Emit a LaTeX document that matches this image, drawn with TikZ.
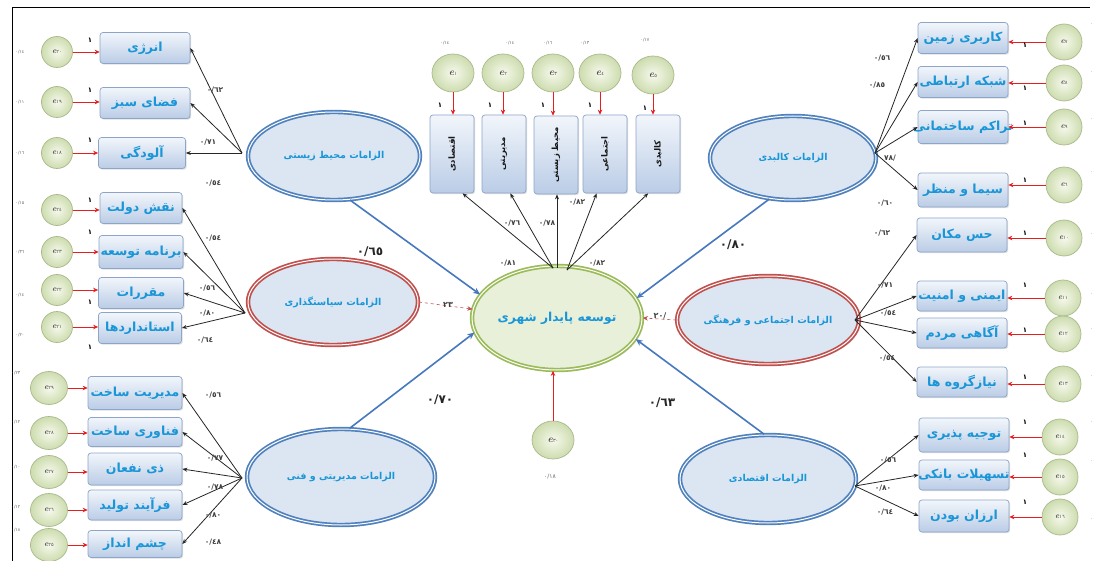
\documentclass[tikz,border=0pt]{standalone}
\usepackage{fontspec}
\usepackage{graphicx}
\usetikzlibrary{shapes.geometric,shadows,arrows.meta}
\TeXXeTstate=1
\newfontfamily\fa[Script=Arabic]{DejaVu Sans}
\newcommand{\fatxt}[1]{\beginR #1\endR}
\newcommand{\bxt}[1]{\makebox[0pt]{\fatxt{#1}}}
\newcommand{\eLab}[1]{\textbf{\textit{e}}{\fa\fontsize{5}{6}\selectfont #1}}

\definecolor{boxline}{RGB}{140,165,200}
\definecolor{boxtop}{RGB}{242,246,251}
\definecolor{boxbot}{RGB}{186,204,230}
\definecolor{txtblue}{RGB}{25,150,215}
\definecolor{errline}{RGB}{170,185,140}
\definecolor{errin}{RGB}{246,249,236}
\definecolor{errout}{RGB}{205,220,175}
\definecolor{ellfill}{RGB}{220,230,242}
\definecolor{bluebd}{RGB}{79,129,189}
\definecolor{redbd}{RGB}{192,80,77}
\definecolor{greenbd}{RGB}{155,187,89}
\definecolor{cenfill}{RGB}{233,240,218}
\definecolor{arrred}{RGB}{230,30,30}
\definecolor{arrblue}{RGB}{70,120,190}

\begin{document}
\begin{tikzpicture}[x=1pt,y=-1pt,
  ind/.style={rectangle, rounded corners=3pt, draw=boxline, line width=0.7pt,
    top color=boxtop, bottom color=boxbot, minimum width=90pt, minimum height=31pt,
    inner sep=1pt, font=\fa\bfseries\fontsize{12.5}{14}\selectfont, text=txtblue,
    drop shadow={opacity=0.25, shadow xshift=1.2pt, shadow yshift=-1.2pt}},
  vind/.style={ind, minimum width=44pt, minimum height=78pt,
    font=\fa\bfseries\fontsize{8.5}{9}\selectfont, text=black!90},
  err/.style={ellipse, draw=errline, line width=0.7pt, inner color=errin, outer color=errout,
    minimum width=31pt, minimum height=31pt, inner sep=0pt,
    font=\fontsize{8}{9}\selectfont, text=black!70},
  errbig/.style={err, minimum width=42pt, minimum height=38pt, font=\fontsize{10}{11}\selectfont},
  lat/.style={ellipse, draw=#1, double=white, double distance=1pt, line width=1.7pt,
    fill=ellfill, inner sep=0pt, font=\fa\bfseries\fontsize{9.5}{11}\selectfont, text=txtblue,
    drop shadow={opacity=0.3, shadow xshift=1.8pt, shadow yshift=-1.8pt}},
  coef/.style={font=\fa\bfseries\fontsize{7.5}{8}\selectfont, text=black!75},
  bigcoef/.style={font=\fa\bfseries\fontsize{12}{14}\selectfont, text=black!85},
  tinyl/.style={font=\fa\fontsize{4.5}{5}\selectfont, text=black!60},
  one/.style={font=\fa\bfseries\fontsize{7}{8}\selectfont, text=black},
  blk/.style={-{Stealth[length=5pt,width=4pt]}, line width=0.8pt, black!85},
  rarr/.style={-{Stealth[length=5pt,width=4.5pt]}, line width=0.9pt, arrred},
  barr/.style={-{Stealth[length=7pt,width=6pt]}, line width=1.6pt, arrblue},
  darr/.style={-{Stealth[length=5pt,width=4.5pt]}, dashed, line width=0.6pt, redbd}
]
\useasboundingbox (0,0) rectangle (1099,561);
\fill[white] (0,0) rectangle (1099,561);
\draw[line width=1pt] (12,561) -- (12,8) -- (1090,8);

% ---------- latent variables ----------
\node[lat=greenbd, fill=cenfill, minimum width=170pt, minimum height=104pt,
  font=\fa\bfseries\fontsize{12.3}{14}\selectfont] (cen) at (557,318) {\fatxt{توسعه پایدار شهری}};
\node[lat=bluebd, minimum width=172pt, minimum height=88pt] (envE) at (334,156) {\fatxt{الزامات محیط زیستی}};
\node[lat=redbd, minimum width=170pt, minimum height=86pt] (polE) at (333,302) {\fatxt{الزامات سیاستگذاری}};
\node[lat=bluebd, minimum width=188pt, minimum height=96pt] (mgmE) at (341,477) {\fatxt{الزامات مدیریتی و فنی}};
\node[lat=bluebd, minimum width=166pt, minimum height=84pt] (kalE) at (793,158) {\fatxt{الزامات کالبدی}};
\node[lat=redbd, minimum width=172pt, minimum height=88pt] (socE) at (768,320) {\fatxt{الزامات اجتماعی و فرهنگی}};
\node[lat=bluebd, minimum width=176pt, minimum height=88pt] (ecoE) at (768,479) {\fatxt{الزامات اقتصادی}};

% ---------- top dimension boxes ----------
\node[vind] (t1) at (452,154) {\rotatebox{90}{\fatxt{اقتصادی}}};
\node[vind] (t2) at (504,154) {\rotatebox{90}{\fatxt{مدیریتی}}};
\node[vind] (t3) at (556,155) {\rotatebox{90}{\fatxt{محیط زیستی}}};
\node[vind] (t4) at (605,154) {\rotatebox{90}{\fatxt{اجتماعی}}};
\node[vind] (t5) at (658,154) {\rotatebox{90}{\fatxt{کالبدی}}};
\node[errbig] (c1) at (453,73) {\eLab{١}};
\node[errbig] (c2) at (503,73) {\eLab{٢}};
\node[errbig] (c3) at (553,73) {\eLab{٣}};
\node[errbig] (c4) at (600,73) {\eLab{٤}};
\node[errbig] (c5) at (653,75) {\eLab{٥}};
\foreach \i in {1,...,5} \draw[rarr] (c\i.south) -- (c\i.south |- t\i.north);
\node[tinyl] at (445,43) {٠/١٤};
\node[tinyl] at (510,43) {٠/١٤};
\node[tinyl] at (548,43) {٠/١٦};
\node[tinyl] at (585,43) {٠/١٣};
\node[tinyl] at (645,40) {٠/١٧};
\foreach \x/\y in {440/105,490/105,543/105,590/105,645/108} \node[one] at (\x,\y) {١};

\coordinate (cT1) at (553,268);
\coordinate (cT2) at (567,270);
\draw[blk] (cT1) -- (t1.-75);
\draw[blk] (cT1) -- (t2.-81);
\draw[blk] (cT1.center) ++(4,0) coordinate (cT3) -- (cT3 |- t3.south);
\draw[blk] (cT2) -- (t4.-102);
\draw[blk] (cT2) -- (t5.-104);
\node[coef] at (508,263) {٠/٨١};
\node[coef] at (512,223) {٠/٧٦};
\node[coef] at (547,223) {٠/٧٨};
\node[coef] at (577,202) {٠/٨٢};
\node[coef] at (597,263) {٠/٨٢};

% residual of the central construct
\node[errbig] (e30) at (553,440) {\eLab{٣٠}};
\draw[rarr] (e30.north) -- (e30.north |- cen.south);
\node[tinyl, font=\fa\fontsize{6}{7}\selectfont] at (550,477) {٠/١٨};

% ---------- structural paths ----------
\draw[barr] (envE.-70) -- (cen.163);
\draw[barr] (mgmE.80) -- (cen.190);
\draw[barr] (kalE.-120) -- (cen.14);
\draw[barr] (ecoE.95) -- (cen.345);
\draw[darr] (polE.east) -- (cen.174);
\draw[darr] (socE.west) -- (cen.east);
\node[bigcoef] at (370,252) {٠/٦٥};
\node[bigcoef] at (440,400) {٠/٧٠};
\node[bigcoef] at (733,245) {٠/٨٠};
\node[bigcoef] at (662,403) {٠/٦٣};
\node[coef, font=\fa\bfseries\fontsize{8}{9}\selectfont] at (448,305) {٢٣};
\node[coef, font=\fa\bfseries\fontsize{8}{9}\selectfont] at (660,316) {/٢٠};

% ---------- environmental block ----------
\node[ind] (env1) at (145,48) {\bxt{انرژی}};
\node[ind] (env2) at (145,103) {\bxt{فضای سبز}};
\node[ind, minimum width=87pt] (env3) at (142,153) {\bxt{آلودگی}};
\node[err] (ee1) at (57,52) {\eLab{٢٠}};
\node[err] (ee2) at (57,102) {\eLab{١٩}};
\node[err] (ee3) at (57,153) {\eLab{١٨}};
\foreach \i in {1,2,3} \draw[rarr] (ee\i.east) -- (ee\i.east -| env\i.west);
\coordinate (envP) at (242,153);
\foreach \i in {1,2,3} \draw[blk] (envP) -- (env\i.east);
\node[coef] at (215,90) {٠/٦٢};
\node[coef] at (208,142) {٠/٧١};
\node[coef] at (213,183) {٠/٥٤};
\node[tinyl] at (20,52) {٠/١٤};
\node[tinyl] at (20,102) {٠/١١};
\node[tinyl] at (20,153) {٠/١٦};
\foreach \y in {40,90,140} \node[one] at (90,\y) {١};

% ---------- policy block ----------
\node[ind, minimum width=82pt] (pol1) at (141,208) {\bxt{نقش دولت}};
\node[ind, minimum width=84pt, minimum height=33pt] (pol2) at (141,252) {\bxt{برنامه توسعه}};
\node[ind, minimum width=85pt] (pol3) at (141,293) {\bxt{مقررات}};
\node[ind, minimum width=83pt] (pol4) at (140,328) {\bxt{استانداردها}};
\node[err] (pe1) at (57,210) {\eLab{٢٤}};
\node[err] (pe2) at (57,252) {\eLab{٢٣}};
\node[err] (pe3) at (57,290) {\eLab{٢٢}};
\node[err] (pe4) at (57,327) {\eLab{٢١}};
\foreach \i in {1,...,4} \draw[rarr] (pe\i.east) -- (pe\i.east -| pol\i.west);
\coordinate (polP) at (245,313);
\foreach \i in {1,...,4} \draw[blk] (polP) -- (pol\i.east);
\node[coef] at (213,238) {٠/٥٤};
\node[coef] at (207,288) {٠/٥٦};
\node[coef] at (207,313) {٠/٨٠};
\node[coef] at (205,340) {٠/٦٤};
\node[tinyl] at (20,203) {٠/١٥};
\node[tinyl] at (20,252) {٠/٣٦};
\node[tinyl] at (20,295) {٠/١٤};
\node[tinyl] at (20,335) {٠/٢٠};
\foreach \y in {200,232,302,347} \node[one] at (90,\y) {١};

% ---------- management block ----------
\node[ind, minimum width=94pt, minimum height=33pt] (mg1) at (135,393) {\bxt{مدیریت ساخت}};
\node[ind, minimum width=94pt, minimum height=29pt] (mg2) at (135,432) {\bxt{فناوری ساخت}};
\node[ind, minimum width=94pt, minimum height=32pt] (mg3) at (135,469) {\bxt{ذی نفعان}};
\node[ind, minimum width=94pt, minimum height=30pt] (mg4) at (135,505) {\bxt{فرآیند تولید}};
\node[ind, minimum width=94pt, minimum height=27pt] (mg5) at (135,544) {\bxt{چشم انداز}};
\node[err, minimum width=37pt, minimum height=33pt] (me1) at (49,388) {\eLab{٢٩}};
\node[err, minimum width=37pt, minimum height=33pt] (me2) at (49,433) {\eLab{٢٨}};
\node[err, minimum width=37pt, minimum height=33pt] (me3) at (49,472) {\eLab{٢٧}};
\node[err, minimum width=37pt, minimum height=33pt] (me4) at (49,510) {\eLab{٢٦}};
\node[err, minimum width=37pt, minimum height=33pt] (me5) at (49,545) {\eLab{٢٥}};
\foreach \i in {1,...,5} \draw[rarr] (me\i.east) -- (me\i.east -| mg\i.west);
\coordinate (mgP) at (242,478);
\foreach \i in {1,...,5} \draw[blk] (mgP) -- (mg\i.east);
\node[coef] at (213,395) {٠/٥٦};
\node[coef] at (215,458) {٠/٧٧};
\node[coef] at (215,487) {٠/٧٨};
\node[coef] at (213,515) {٠/٨٠};
\node[coef] at (213,542) {٠/٤٨};
\node[tinyl] at (16,373) {٠/٢٣};
\node[tinyl] at (16,422) {٠/١٢};
\node[tinyl] at (16,467) {٠/١٠};
\node[tinyl] at (16,507) {٠/١٢};
\node[tinyl] at (16,530) {٠/١٨};

% ---------- physical block ----------
\node[ind] (ka1) at (963,38) {\bxt{کاربری زمین}};
\node[ind] (ka2) at (963,82) {\bxt{شبکه ارتباطی}};
\node[ind, minimum height=33pt] (ka3) at (963,127) {\bxt{تراکم ساختمانی}};
\node[ind, minimum height=34pt] (ka4) at (963,190) {\bxt{سیما و منظر}};
\node[err, minimum width=36pt, minimum height=36pt] (ke1) at (1064,42) {\eLab{٧}};
\node[err, minimum width=36pt, minimum height=36pt] (ke2) at (1064,83) {\eLab{٨}};
\node[err, minimum width=36pt, minimum height=36pt] (ke3) at (1064,127) {\eLab{٩}};
\node[err, minimum width=36pt, minimum height=36pt] (ke4) at (1064,185) {\eLab{٦}};
\foreach \i in {1,...,4} \draw[rarr] (ke\i.west) -- (ke\i.west -| ka\i.east);
\coordinate (kaP) at (875,153);
\foreach \i in {1,...,4} \draw[blk] (kaP) -- (ka\i.west);
\node[coef] at (882,58) {٠/٥٦};
\node[coef] at (877,85) {٠/٨٥};
\node[coef] at (890,158) {/٧٨};
\node[coef] at (885,203) {٠/٦٠};
\foreach \y in {45,88,123,180} \node[one] at (1025,\y) {١};

% ---------- social block ----------
\node[ind, minimum height=34pt] (so1) at (962,235) {\bxt{حس مکان}};
\node[ind, minimum height=30pt] (so2) at (962,296) {\bxt{ایمنی و امنیت}};
\node[ind, minimum height=30pt] (so3) at (962,333) {\bxt{آگاهی مردم}};
\node[ind, minimum height=30pt] (so4) at (962,382) {\bxt{نیازگروه ها}};
\node[err, minimum width=36pt, minimum height=36pt] (se1) at (1064,238) {\eLab{١٠}};
\node[err, minimum width=36pt, minimum height=36pt] (se2) at (1063,298) {\eLab{١١}};
\node[err, minimum width=36pt, minimum height=36pt] (se3) at (1063,334) {\eLab{١٢}};
\node[err, minimum width=36pt, minimum height=36pt] (se4) at (1063,384) {\eLab{١٣}};
\foreach \i in {1,...,4} \draw[rarr] (se\i.west) -- (se\i.west -| so\i.east);
\coordinate (soP) at (855,320);
\foreach \i in {1,...,4} \draw[blk] (soP) -- (so\i.west);
\node[coef] at (882,233) {٠/٦٢};
\node[coef] at (885,285) {٠/٧١};
\node[coef] at (888,313) {٠/٥٤};
\node[coef] at (887,358) {٠/٥٤};
\foreach \y in {233,285,330,377} \node[one] at (1025,\y) {١};

% ---------- economic block ----------
\node[ind, minimum height=34pt] (ec1) at (964,435) {\bxt{توجیه پذیری}};
\node[ind, minimum height=30pt] (ec2) at (964,475) {\bxt{تسهیلات بانکی}};
\node[ind, minimum height=32pt] (ec3) at (964,516) {\bxt{ارزان بودن}};
\node[err, minimum width=36pt, minimum height=36pt] (ce1) at (1060,437) {\eLab{١٤}};
\node[err, minimum width=36pt, minimum height=36pt] (ce2) at (1060,477) {\eLab{١٥}};
\node[err, minimum width=36pt, minimum height=36pt] (ce3) at (1060,517) {\eLab{١٦}};
\foreach \i in {1,2,3} \draw[rarr] (ce\i.west) -- (ce\i.west -| ec\i.east);
\coordinate (ecP) at (855,486);
\foreach \i in {1,2,3} \draw[blk] (ecP) -- (ec\i.west);
\node[coef] at (888,460) {٠/٥٦};
\node[coef] at (883,488) {٠/٨٠};
\node[coef] at (885,512) {٠/٦٤};
\foreach \y in {422,455,502} \node[one] at (1025,\y) {١};

% variances printed at the right edge
\foreach \y/\v in {25/٠/٢٠,73/٠/١٥,120/٠/١٤,173/٠/١٣,235/٠/٣٠,295/٠/١٢,330/٠/١٦,377/٠/٢٢,423/٠/٢٠,462/٠/١٦,520/٠/١٣}
  \node[tinyl, anchor=west] at (1087,\y) {\v};
\end{tikzpicture}
\end{document}
